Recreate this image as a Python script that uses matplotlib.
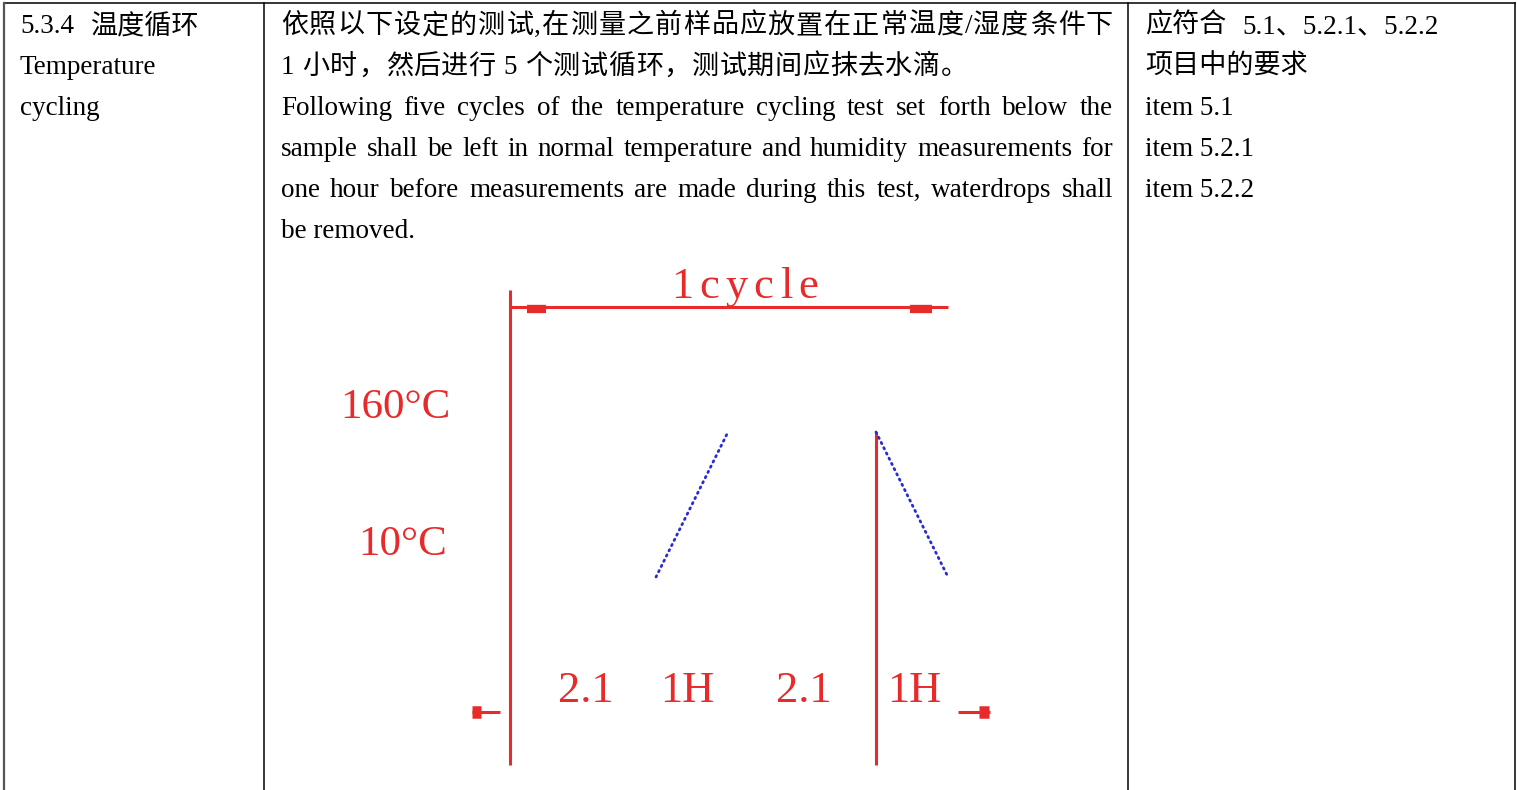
import matplotlib
matplotlib.use('Agg')
import matplotlib.pyplot as plt

# table text
left_lines = ['5.3.4 温度循环', 'Temperature', 'cycling']
mid_cn = ['依照以下设定的测试,在测量之前样品应放置在正常温度/湿度条件下',
          '1 小时，然后进行 5 个测试循环，测试期间应抹去水滴。']
mid_en = ['Following five cycles of the temperature cycling test set forth below the',
          'sample shall be left in normal temperature and humidity measurements for',
          'one hour before measurements are made during this test, waterdrops shall',
          'be removed.']
right_lines = ['应符合 5.1、5.2.1、5.2.2', '项目中的要求', 'item 5.1', 'item 5.2.1', 'item 5.2.2']

# diagram labels
temp_labels = ['160°C', '10°C']
time_labels = ['2.1', '1H', '2.1', '1H']
cycle_label = '1cycle'

# diagram geometry (pixel units of the page)
col_x = [4, 264, 1128, 1515]
baselines = [33, 74, 115, 156, 197, 238]
axis_left = ([510, 510], [290, 765])
axis_right = ([876, 876], [432, 765])
cycle_line = ([510, 948], [307, 307])
cycle_ticks = [([527, 546], [309, 309]), ([910, 932], [309, 309])]
ramp_up = ([656, 727], [577, 434])
ramp_down = ([876, 948], [432, 577])
bottom_left = ([472, 500], [712, 712])
bottom_right = ([958, 990], [712, 712])
temp_pos = [(340, 418), (358, 555)]
time_pos = [(586, 702), (687, 702), (804, 702), (914, 702)]

RED = '#e82a2a'
BLUE = '#2a2ad0'
SERIF = ['Liberation Serif', 'Noto Sans CJK SC']
FS = 19.5

fig = plt.figure(figsize=(15.17, 7.9), dpi=100)
ax = fig.add_axes([0, 0, 1, 1])
ax.set_xlim(0, 1517)
ax.set_ylim(790, 0)
ax.axis('off')
renderer = fig.canvas.get_renderer()


def width_of(s, **kw):
    t = ax.text(0, 0, s, **kw)
    w = t.get_window_extent(renderer).width
    t.remove()
    return w


def justify(tokens, x0, x1, y, **kw):
    ws = [width_of(tok, **kw) for tok in tokens]
    gap = (x1 - x0 - sum(ws)) / (len(tokens) - 1)
    x = x0
    for tok, w in zip(tokens, ws):
        ax.text(x, y, tok, va='baseline', ha='left', **kw)
        x += w + gap


# table borders
ax.plot([col_x[0], col_x[-1]], [3, 3], color='black', lw=1.1)
ax.plot([col_x[0], col_x[0]], [3, 790], color='#555555', lw=1.6)
for x in col_x[1:]:
    ax.plot([x, x], [3, 790], color='black', lw=1.1)

tkw = dict(fontsize=FS, family=SERIF, color='black')
ax.text(20, baselines[0], left_lines[0][:5], va='baseline', **tkw)
ax.text(90, baselines[0], left_lines[0][6:], va='baseline', **tkw)
for s, y in zip(left_lines[1:], baselines[1:]):
    ax.text(20, y, s, va='baseline', **tkw)
ax.text(1145, baselines[0], right_lines[0][:3], va='baseline', **tkw)
ax.text(1242, baselines[0], right_lines[0][4:], va='baseline', **tkw)
for s, y in zip(right_lines[1:], baselines[1:]):
    ax.text(1145, y, s, va='baseline', **tkw)

justify(list(mid_cn[0]), 281, 1113, baselines[0], **tkw)
justify(list(mid_cn[1]), 281, 968, baselines[1], **tkw)
for s, y in zip(mid_en[:3], baselines[2:5]):
    justify(s.split(' '), 281, 1113, y, **tkw)
ax.text(281, baselines[5], mid_en[3], va='baseline', **tkw)

# diagram
for seg in [axis_left, axis_right, cycle_line, bottom_left, bottom_right]:
    ax.plot(*seg, color=RED, lw=2.2, solid_capstyle='butt')
for seg in cycle_ticks:
    ax.plot(*seg, color=RED, lw=6, solid_capstyle='butt')
ax.plot([472, 481], [712, 712], color=RED, lw=9, solid_capstyle='butt')
ax.plot([979, 989], [712, 712], color=RED, lw=9, solid_capstyle='butt')
for seg in [ramp_up, ramp_down]:
    ax.plot(*seg, color=BLUE, lw=2.0, ls=(0, (0.5, 1.6)), dash_capstyle='round')

dkw = dict(fontsize=32, family=['Liberation Serif'], color=RED)
justify(list(cycle_label), 671, 818, 298, **dkw)
for s, (x, y) in zip(temp_labels, temp_pos):
    ax.text(x, y, s, va='baseline', ha='left', **dict(dkw, fontsize=31))
for s, (x, y) in zip(time_labels, time_pos):
    ax.text(x, y, s, va='baseline', ha='center', **dkw)

fig.savefig('out.png', dpi=100)
